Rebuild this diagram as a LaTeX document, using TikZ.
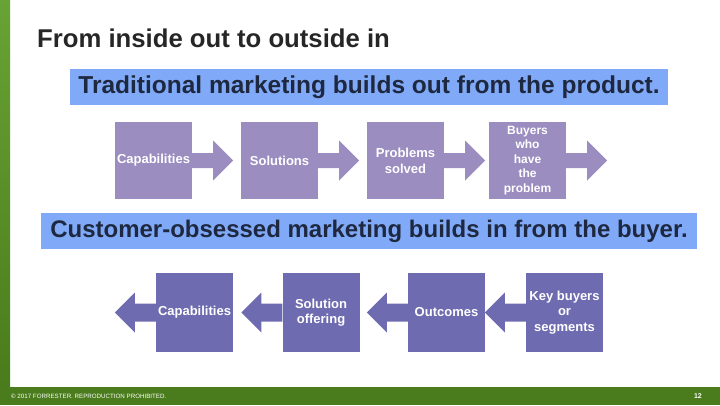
\documentclass[tikz,border=0pt]{standalone}
\usepackage{fontspec}
\setmainfont{Liberation Sans}
\usepackage{xcolor}
\usepackage{tikz}
\usetikzlibrary{positioning}

\definecolor{slidegreen}{HTML}{4A7B1C}
\definecolor{bargreentop}{HTML}{68A335}
\definecolor{toppurple}{HTML}{9C8DC1}
\definecolor{botpurple}{HTML}{6E6BB0}
\definecolor{bannerblue}{HTML}{80AAF7}
\definecolor{bannertext}{HTML}{1E2840}
\definecolor{titlegray}{HTML}{262626}

\begin{document}
\begin{tikzpicture}[
    x=1pt, y=-1pt,
    topbox/.style={rectangle, fill=toppurple, minimum width=77pt, minimum height=77pt, inner sep=1pt, text=white, align=center, font=\bfseries\fontsize{13}{16}\selectfont},
    botbox/.style={rectangle, fill=botpurple, minimum width=77pt, minimum height=79pt, inner sep=1pt, text=white, align=center, font=\bfseries\fontsize{13}{15.5}\selectfont},
    banner/.style={rectangle, fill=bannerblue, text=bannertext, minimum height=36pt, inner sep=0pt, font=\bfseries\fontsize{24}{28}\selectfont}
]
\useasboundingbox (0,0) rectangle (720,405);

% Rahmen der Folie
\shade[top color=bargreentop, bottom color=slidegreen] (0,0) rectangle (10,387);
\fill[slidegreen] (0,387) rectangle (720,405);
\node[anchor=west, inner sep=0pt, text=white, font=\fontsize{6.2}{7}\selectfont] (copy) at (11,396) {© 2017 FORRESTER. REPRODUCTION PROHIBITED.};
\node[anchor=east, inner sep=0pt, text=white, font=\bfseries\fontsize{7}{8}\selectfont] (page) at (702,396) {12};

% Titel
\node[anchor=base west, inner sep=0pt, text=titlegray, font=\bfseries\fontsize{25.7}{30}\selectfont] (title) at (37,47) {From inside out to outside in};

% Banner
\node[banner, minimum width=598pt, font=\bfseries\fontsize{24.5}{28}\selectfont] (trad) at (369,87) {Traditional marketing builds out from the product.};
\node[banner, minimum width=656pt] (cust) at (369,231) {Customer-obsessed marketing builds in from the buyer.};

% Obere Reihe: vom Produkt nach aussen
\node[topbox] (tcap) at (153.5,160.5) {Capabilities};
\node[topbox] (tsol) at (279.5,160.5) {Solutions};
\node[topbox] (tprob) at (405.5,160.5) {Problems\\solved};
\node[topbox, font=\bfseries\fontsize{12}{14.5}\selectfont] (tbuy) at (527.5,160.5) {Buyers\\who\\have\\the\\problem};

\foreach \n in {tcap, tsol, tprob, tbuy} {
    \fill[toppurple] (\n.east) ++(0,-7.5) -- ++(21,0) -- ++(0,-12.5) -- ++(20,20) -- ++(-20,20) -- ++(0,-12.5) -- ++(-21,0) -- cycle;
}

% Untere Reihe: vom Kaeufer nach innen
\node[botbox] (bcap) at (194.5,312.5) {Capabilities};
\node[botbox] (bsol) at (321,312.5) {Solution\\offering};
\node[botbox] (bout) at (446.5,312.5) {Outcomes};
\node[botbox] (bkey) at (564.5,312.5) {Key buyers\\or\\segments};

\foreach \n in {bcap, bsol, bout, bkey} {
    \fill[botpurple] (\n.west) ++(0,-9) -- ++(-21,0) -- ++(0,-11) -- ++(-20,20) -- ++(20,20) -- ++(0,-11) -- ++(21,0) -- cycle;
}

\end{tikzpicture}
\end{document}
